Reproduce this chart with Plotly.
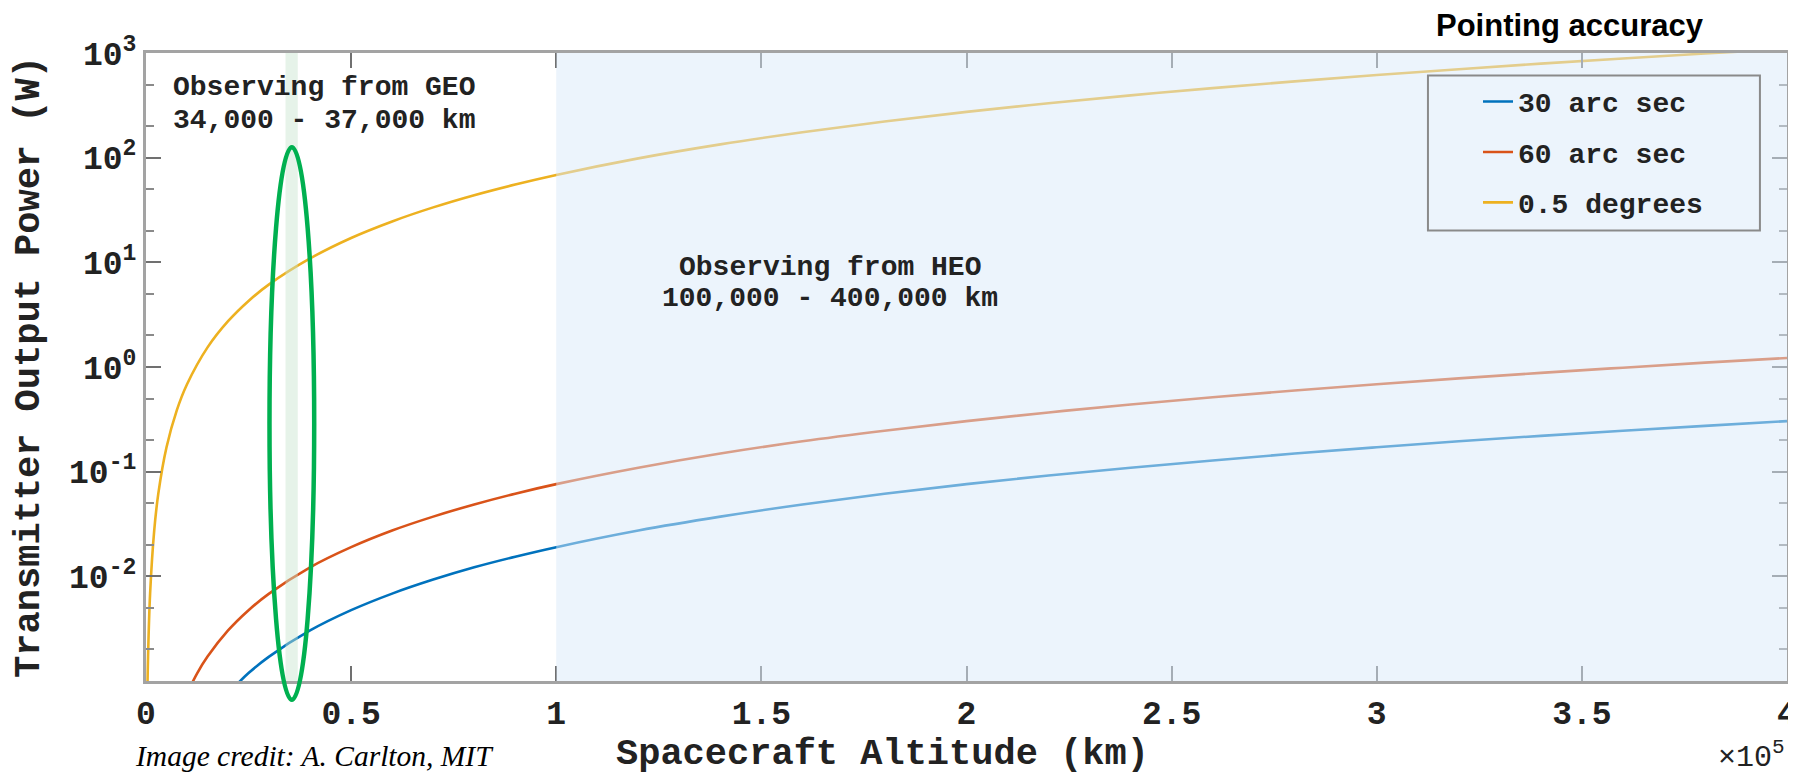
import plotly.graph_objects as go

# ---- data (altitude in km, power in W) ----
alt_30as = [20000, 25000, 30000, 40000, 50000, 60000, 70000, 80000, 90000, 100000,
            120000, 140000, 160000, 180000, 200000, 220000, 240000, 260000, 280000,
            300000, 320000, 340000, 360000, 380000, 400000]
pow_30as = [0.00076, 0.00119, 0.00171, 0.00304, 0.00475, 0.00684, 0.00931, 0.0122, 0.0154, 0.019,
            0.0274, 0.0372, 0.0486, 0.0616, 0.076, 0.092, 0.109, 0.128, 0.149,
            0.171, 0.195, 0.220, 0.246, 0.274, 0.304]

alt_60as = [10000, 12500, 15000, 20000, 25000, 30000, 40000, 50000, 60000, 70000, 80000, 90000,
            100000, 120000, 140000, 160000, 180000, 200000, 220000, 240000, 260000, 280000,
            300000, 320000, 340000, 360000, 380000, 400000]
pow_60as = [0.00076, 0.00119, 0.00171, 0.00304, 0.00475, 0.00684, 0.0122, 0.019, 0.0274, 0.0372,
            0.0486, 0.0616, 0.076, 0.109, 0.149, 0.195, 0.246, 0.304, 0.368, 0.438, 0.514, 0.596,
            0.684, 0.778, 0.879, 0.985, 1.10, 1.22]

alt_05deg = [300, 500, 1000, 2000, 3000, 5000, 7500, 10000, 15000, 20000, 25000, 30000,
             40000, 50000, 60000, 70000, 80000, 90000, 100000, 120000, 140000, 160000,
             180000, 200000, 220000, 240000, 260000, 280000, 300000, 320000, 340000,
             360000, 380000, 400000]
pow_05deg = [0.000616, 0.00171, 0.00684, 0.0274, 0.0616, 0.171, 0.385, 0.684, 1.54, 2.74, 4.28, 6.16,
             10.9, 17.1, 24.6, 33.5, 43.8, 55.4, 68.4, 98.5, 134, 175,
             222, 274, 331, 394, 462, 536, 616, 700, 791,
             886, 988, 1094]

series_names = ["30 arc sec", "60 arc sec", "0.5 degrees"]
series_colors = ["#0072BD", "#D95319", "#EDB120"]

x_tick_vals = [0, 50000, 100000, 150000, 200000, 250000, 300000, 350000, 400000]
x_tick_text = ["0", "0.5", "1", "1.5", "2", "2.5", "3", "3.5", "4"]
y_tick_vals = [1e-2, 1e-1, 1, 10, 100, 1000]
y_tick_text = ["10<sup>-2</sup>", "10<sup>-1</sup>", "10<sup>0</sup>",
               "10<sup>1</sup>", "10<sup>2</sup>", "10<sup>3</sup>"]

geo_band = [34000, 37000]
heo_band = [100000, 400000]

MONO = "Liberation Mono, Courier New, monospace"

fig = go.Figure()
for i, (xs, ys) in enumerate([(alt_30as, pow_30as), (alt_60as, pow_60as), (alt_05deg, pow_05deg)]):
    fig.add_trace(go.Scatter(
        x=xs, y=ys, mode="lines", name=series_names[i],
        legendgroup=f"g{i}",
        line=dict(color=series_colors[i], width=2.6, shape="spline", smoothing=1.0),
    ))

# shaded regions (drawn above the lines so the curves appear faded, as in the reference)
fig.add_shape(type="rect", xref="x", yref="paper", x0=heo_band[0], x1=heo_band[1], y0=0, y1=1,
              fillcolor="rgb(218,234,250)", opacity=0.5, line=dict(width=0), layer="above")
fig.add_shape(type="rect", xref="x", yref="paper", x0=geo_band[0], x1=geo_band[1], y0=0, y1=1,
              fillcolor="rgb(200,228,206)", opacity=0.45, line=dict(width=0), layer="above")
# green highlight ellipse around the GEO band
fig.add_shape(type="circle", xref="x", yref="paper", x0=30100, x1=41000, y0=-0.030, y1=0.850,
              line=dict(color="rgb(0,176,80)", width=4.5), fillcolor="rgba(0,0,0,0)", layer="above")
# legend frame
fig.add_shape(type="rect", xref="paper", yref="paper", x0=0.7812, x1=0.9835, y0=0.7175, y1=0.964,
              line=dict(color="#8a8a8a", width=2), fillcolor="rgba(0,0,0,0)", layer="above")

axis_common = dict(
    showline=True, linecolor="#a3a3a3", linewidth=3, mirror="ticks",
    ticks="inside", ticklen=15, tickwidth=1.5, tickcolor="#707070",
    showgrid=False, zeroline=False, automargin=False,
    tickfont=dict(family=MONO, size=33, color="#222222", weight="bold"),
)

fig.update_xaxes(
    range=[0, 400000], tickvals=x_tick_vals, ticktext=x_tick_text,
    ticklabeloverflow="allow",
    **axis_common,
)
fig.update_yaxes(
    type="log", range=[-3, 3], tickvals=y_tick_vals, ticktext=y_tick_text,
    minor=dict(ticks="inside", ticklen=8, tickcolor="#8a8a8a", showgrid=False),
    title=dict(text="Transmitter Output Power (W)", standoff=20,
               font=dict(family=MONO, size=37, color="#222222", weight="bold")),
    **axis_common,
)

# x-axis title (placed left of centre, as in the reference)
fig.add_annotation(xref="paper", yref="paper", x=0.449, y=-0.117, xanchor="center", yanchor="middle",
                   showarrow=False, text="Spacecraft Altitude (km)",
                   font=dict(family=MONO, size=37, color="#222222", weight="bold"))

ann_font = dict(family=MONO, size=28, color="#222222", weight="bold")
for txt, yy in [("Observing from GEO", 0.945), ("34,000 - 37,000 km", 0.8925)]:
    fig.add_annotation(xref="paper", yref="paper", x=0.0155, y=yy, xanchor="left", yanchor="middle",
                       showarrow=False, font=ann_font, text=txt)
for txt, yy in [("Observing from HEO", 0.6586), ("100,000 - 400,000 km", 0.6093)]:
    fig.add_annotation(xref="paper", yref="paper", x=0.4168, y=yy, xanchor="center", yanchor="middle",
                       showarrow=False, font=ann_font, text=txt)
fig.add_annotation(xref="paper", yref="paper", x=0.868, y=1.0436, xanchor="center", yanchor="middle",
                   showarrow=False, text="Pointing accuracy",
                   font=dict(family="Liberation Sans, Arial, sans-serif", size=31, color="#000000",
                             weight="bold"))
fig.add_annotation(xref="paper", yref="paper", x=1.0, y=-0.153, xanchor="right", yanchor="bottom",
                   showarrow=False, text="×10<sup>5</sup>",
                   font=dict(family=MONO, size=30, color="#222222"))
fig.add_annotation(xref="paper", yref="paper", x=-0.008, y=-0.119, xanchor="left", yanchor="middle",
                   showarrow=False, text="Image credit: A. Carlton, MIT",
                   font=dict(family="Liberation Serif, Times New Roman, serif", size=29.5,
                             color="#000000", style="italic"))

# the page body keeps the browser's default 8 px margin, so the figure is drawn 8 px in
# from the top-left corner; size and margins are set so the plot area lands where it should
fig.update_layout(
    width=1788, height=771,
    margin=dict(l=138, r=9, t=45, b=98),
    paper_bgcolor="white", plot_bgcolor="white",
    showlegend=True,
    legend=dict(
        x=0.8117, y=0.962, xanchor="left", yanchor="top",
        bgcolor="rgba(0,0,0,0)", borderwidth=0,
        font=dict(family=MONO, size=28, color="#222222", weight="bold"),
        traceorder="grouped", tracegroupgap=11,
    ),
)

fig.write_html("out.html")
